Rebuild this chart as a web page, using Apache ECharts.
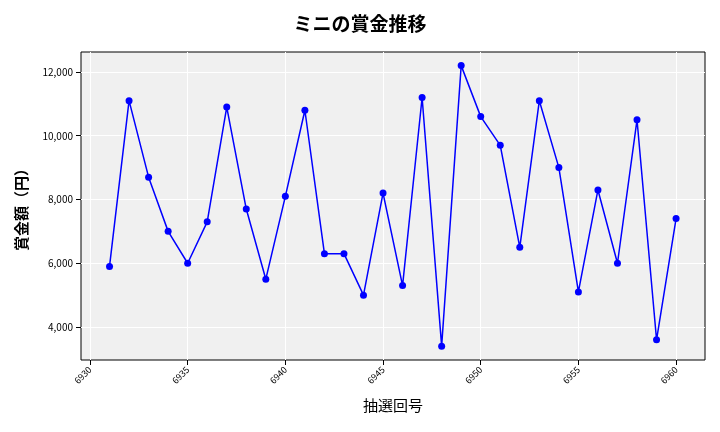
<!DOCTYPE html>
<html><head><meta charset="utf-8">
<script src="https://cdn.jsdelivr.net/npm/echarts@6/dist/echarts.min.js"></script>
<style>html,body{margin:0;padding:0;background:#fff}#c{width:720px;height:432px}</style>
</head><body><div id="c"></div>
<script>
var draws = [];
for (var d = 6931; d <= 6960; d++) draws.push(d);
var prizes = [5900, 11100, 8700, 7000, 6000, 7300, 10900, 7700, 5500, 8100,
  10800, 6300, 6300, 5000, 8200, 5300, 11200, 3400, 12200, 10600,
  9700, 6500, 11100, 9000, 5100, 8300, 6000, 10500, 3600, 7400];
var xTicks = [6930, 6935, 6940, 6945, 6950, 6955, 6960];
var yTicks = [4000, 6000, 8000, 10000, 12000];

var font = '"Noto Sans CJK JP", sans-serif';
var chart = echarts.init(document.getElementById('c'));
chart.setOption({
  title: {
    text: 'ミニの賞金推移', left: 'center', top: 9,
    textStyle: { fontFamily: font, fontSize: 19, fontWeight: 'bold', color: '#000' }
  },
  grid: { left: 81, right: 15, top: 52, bottom: 72, show: true, backgroundColor: '#f0f0f0', borderWidth: 1, borderColor: '#000' },
  xAxis: {
    type: 'value', min: 6929.54, max: 6961.48,
    name: '抽選回号', nameLocation: 'middle', nameGap: 38,
    nameTextStyle: { fontFamily: font, fontSize: 15, color: '#000' },
    axisLine: { show: false },
    axisTick: { show: true, customValues: xTicks, lineStyle: { color: '#000' } },
    axisLabel: { customValues: xTicks, rotate: 45, fontSize: 9, color: '#000', fontFamily: font,
      formatter: function (v) { return String(v); } },
    splitLine: { show: true, lineStyle: { color: '#fff' } }
  },
  yAxis: {
    type: 'value', min: 2965, max: 12627,
    name: '賞金額（円）', nameLocation: 'middle', nameGap: 52,
    nameTextStyle: { fontFamily: font, fontSize: 15, fontWeight: 'bold', color: '#000' },
    axisLine: { show: false },
    axisTick: { show: true, customValues: yTicks, lineStyle: { color: '#000' } },
    axisLabel: { customValues: yTicks, fontSize: 10, color: '#000', fontFamily: font,
      formatter: function (v) { return v.toLocaleString('en-US'); } },
    splitLine: { show: true, lineStyle: { color: '#fff' } }
  },
  series: [{
    type: 'line',
    data: draws.map(function (d, i) { return [d, prizes[i]]; }),
    symbol: 'circle', symbolSize: 7,
    lineStyle: { color: '#0000ff', width: 1.5 },
    itemStyle: { color: '#0000ff' }
  }]
});
</script></body></html>
